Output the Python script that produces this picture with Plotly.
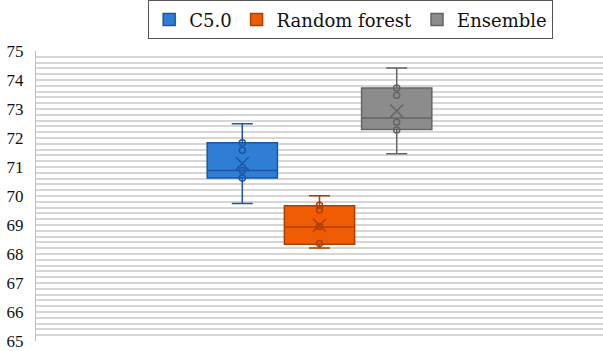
import plotly.graph_objects as go

# Accuracy (%) summaries for each model
models = ["C5.0", "Random forest", "Ensemble"]
lower_whisker = [69.74, 68.21, 71.46]
q1_values = [70.62, 68.34, 72.29]
medians = [70.88, 68.93, 72.69]
q3_values = [71.84, 69.66, 73.72]
upper_whisker = [72.49, 70.01, 74.41]
means = [71.12, 68.99, 72.93]
inner_points = [
    [71.84, 71.58, 70.88, 70.62],
    [69.68, 69.52, 68.95, 68.36],
    [73.72, 73.47, 72.54, 72.28],
]
y_ticks = list(range(65, 76))

fill_colors = ["rgb(47,126,214)", "rgb(240,92,4)", "rgb(140,140,140)"]
line_colors = ["rgb(28,86,160)", "rgb(176,62,0)", "rgb(100,100,100)"]

fig = go.Figure()
for i, name in enumerate(models):
    fig.add_trace(go.Box(
        name=name,
        legendgroup=name,
        x=[i],
        q1=[q1_values[i]],
        median=[medians[i]],
        q3=[q3_values[i]],
        lowerfence=[lower_whisker[i]],
        upperfence=[upper_whisker[i]],
        width=0.91,
        whiskerwidth=0.3,
        fillcolor=fill_colors[i],
        line=dict(color=line_colors[i], width=1.5),
        boxpoints=False,
        showlegend=True,
    ))
    # inner data points
    fig.add_trace(go.Scatter(
        x=[i] * len(inner_points[i]),
        y=inner_points[i],
        legendgroup=name,
        mode="markers",
        marker=dict(symbol="circle-open", size=6, color=line_colors[i],
                    line=dict(color=line_colors[i], width=1.5)),
        showlegend=False, hoverinfo="y",
    ))
    # mean marker
    fig.add_trace(go.Scatter(
        x=[i], y=[means[i]],
        legendgroup=name,
        mode="markers",
        marker=dict(symbol="x-thin-open", size=13, color=line_colors[i],
                    line=dict(color=line_colors[i], width=1.5)),
        showlegend=False, hoverinfo="y",
    ))

fig.update_layout(
    width=603, height=351,
    margin=dict(l=36, r=0, t=48, b=3),
    paper_bgcolor="white",
    plot_bgcolor="white",
    showlegend=True,
    font=dict(family="Liberation Serif", color="#111111"),
    legend=dict(
        orientation="h",
        x=0.555, xanchor="center",
        y=1.04, yanchor="bottom",
        bordercolor="#555555", borderwidth=1,
        font=dict(family="DejaVu Serif", size=18, color="#111111"),
        traceorder="normal",
        tracegroupgap=24,
    ),
    xaxis=dict(
        range=[-2.672, 4.672],
        showticklabels=False, showgrid=False, zeroline=False,
        showline=False, fixedrange=True,
    ),
    yaxis=dict(
        range=[65, 75],
        tickvals=y_ticks,
        ticktext=[str(v) for v in y_ticks],
        tickfont=dict(family="Liberation Serif", size=17, color="#111111"),
        ticklabelstandoff=8,
        ticklabeloverflow="allow",
        showgrid=True, gridcolor="#d6d6d6", gridwidth=1.5,
        minor=dict(dtick=0.2, showgrid=True, gridcolor="#d6d6d6", gridwidth=1.5),
        zeroline=False,
        showline=True, linecolor="#bdbdbd", linewidth=1,
    ),
)

fig.write_html("out.html")
